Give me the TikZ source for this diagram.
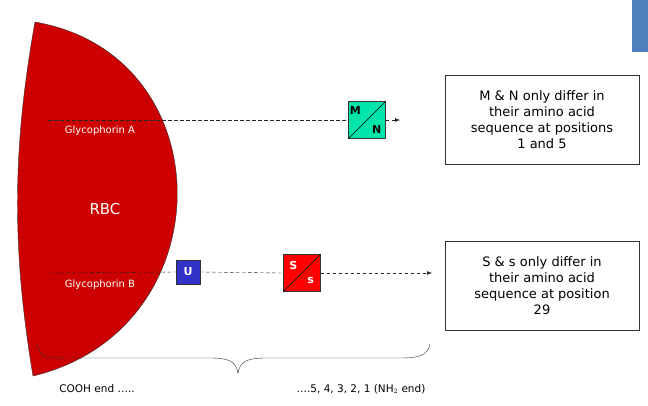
\documentclass[tikz,border=0pt]{standalone}
\usepackage{fontspec}
\setmainfont{DejaVu Sans}
\usetikzlibrary{arrows.meta}
\definecolor{mncol}{RGB}{0,228,170}
\definecolor{ucol}{RGB}{50,50,200}
\definecolor{rbccol}{RGB}{204,0,0}
\definecolor{tabcol}{RGB}{79,129,189}
\begin{document}
\begin{tikzpicture}[x=1pt,y=-1pt,
  dl/.style={draw=black!85,dash pattern=on 3.5pt off 2.5pt},
  gbox/.style={draw=black!80,minimum size=37pt,inner sep=0pt},
  tbox/.style={draw=black!80,thick,minimum width=194pt,minimum height=89pt,align=center,font=\fontsize{13}{16}\selectfont},
  lbl/.style={font=\fontsize{10}{12}\selectfont}]
\useasboundingbox (0,0) rectangle (648,405);
\fill[tabcol] (632,0) rectangle (648,52);
% RBC
\filldraw[fill=rbccol, draw=black!80] (35,22) .. controls (225,55) and (225,330) .. (33,376) .. controls (12,250) and (12,150) .. (35,22);
\node[white,font=\fontsize{15}{17}\selectfont] (rbc) at (105,209) {RBC};
\node[white,lbl] (ga) at (100,131) {Glycophorin A};
\node[white,lbl] (gb) at (100,285) {Glycophorin B};
% A line
\coordinate (a0) at (48,120);
\node[gbox,fill=mncol] (mn) at (367,120) {};
\draw (mn.south west) -- (mn.north east);
\node[font=\bfseries\fontsize{11}{11}\selectfont] at ([shift={(7,9)}]mn.north west) {M};
\node[font=\bfseries\fontsize{11}{11}\selectfont] at ([shift={(-9,-9)}]mn.south east) {N};
\coordinate (a1) at (400,120);
\draw[dl] (a0) -- (mn.west);
\draw[dl,-{Latex[length=5pt]}] (mn.east) -- (a1);
% B line
\coordinate (b0) at (48,273);
\node[draw=black!80,fill=ucol,minimum size=24pt,inner sep=0pt,text=white,font=\bfseries\fontsize{11}{11}\selectfont] (u) at (188,272) {U};
\node[gbox,fill=red] (ss) at (302,273) {};
\draw (ss.south west) -- (ss.north east);
\node[white,font=\bfseries\fontsize{11}{11}\selectfont] at ([shift={(10,11)}]ss.north west) {S};
\node[white,font=\bfseries\fontsize{11}{11}\selectfont] at ([shift={(-10,-11)}]ss.south east) {s};
\coordinate (b1) at (432,273);
\draw[dl] (b0) -- (u.west);
\draw[dl] (u.east) -- (ss.west);
\draw[dl,-{Latex[length=5pt]}] (ss.east) -- (b1);
% text boxes
\node[tbox] (t1) at (542,120) {M \& N only differ in\\their amino acid\\sequence at positions\\1 and 5};
\node[tbox] (t2) at (542,286) {S \& s only differ in\\their amino acid\\sequence at position\\29};
% brace
\draw[black!80] (37,344) .. controls (40,360) and (50,358) .. (70,358) -- (210,358) .. controls (230,358) and (236,362) .. (238,373)
  .. controls (240,362) and (246,358) .. (266,358) -- (400,358) .. controls (420,358) and (428,355) .. (430,344);
\node[font=\fontsize{10.5}{12}\selectfont] (c1) at (97,389) {COOH end …..};
\node[font=\fontsize{10.5}{12}\selectfont] (c2) at (361,389) {….5, 4, 3, 2, 1 (NH$_2$ end)};
\end{tikzpicture}
\end{document}
